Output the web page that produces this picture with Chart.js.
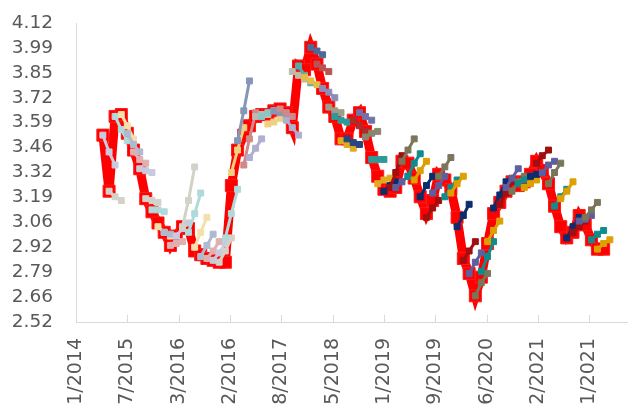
<!DOCTYPE html>
<html>
<head>
<meta charset="utf-8">
<script src="https://cdn.jsdelivr.net/npm/chart.js@4.4.1/dist/chart.umd.min.js"></script>
<style>
  html, body { margin: 0; padding: 0; background: #ffffff; }
  #wrap { width: 637px; height: 405px; overflow: hidden; }
</style>
</head>
<body>
<div id="wrap"><canvas id="chart" width="637" height="405"></canvas></div>
<script>
// Axis labels
const xTickLabels = ['11/2014', '7/2015', '3/2016', '12/2016', '8/2017', '5/2018',
                     '1/2019', '9/2019', '6/2020', '2/2021', '11/2021'];
const yTickLabels = ['2.52', '2.66', '2.79', '2.92', '3.06', '3.19', '3.32',
                     '3.46', '3.59', '3.72', '3.85', '3.99', '4.12'];

// Monthly spot rate, March 2015 .. January 2022
const rateStart = { year: 2015, month: 3 };
const rate = [
  3.52, 3.22, 3.62, 3.63, 3.53, 3.44, 3.34, 3.18, 3.11, 3.05,        // 2015-03 .. 2015-12
  3.00, 2.93, 2.98, 3.03, 3.02, 2.90, 2.88, 2.86, 2.85, 2.84, 2.84, 3.25, // 2016
  3.44, 3.52, 3.57, 3.62, 3.63, 3.63, 3.65, 3.66, 3.64, 3.56, 3.89, 3.87, // 2017
  3.99, 3.90, 3.77, 3.67, 3.62, 3.50, 3.50, 3.60, 3.64, 3.54, 3.40, 3.30, // 2018
  3.23, 3.22, 3.24, 3.38, 3.37, 3.29, 3.19, 3.10, 3.17, 3.31, 3.28, 3.23, // 2019
  3.08, 2.86, 2.78, 2.66, 2.76, 2.94, 3.10, 3.16, 3.22, 3.27, 3.25, 3.27, // 2020
  3.31, 3.38, 3.33, 3.26, 3.14, 3.03, 2.97, 3.00, 3.09, 3.04, 2.96, 2.91, // 2021
  2.91                                                                   // 2022-01
];

// Three-month forward curves, one per month from March 2015
const curveStart = { year: 2015, month: 3 };
const forwardCurves = [
  [3.52, 3.43, 3.36], [3.22, 3.19, 3.17], [3.62, 3.55, 3.49], [3.63, 3.57, 3.50],
  [3.53, 3.47, 3.43], [3.43, 3.39, 3.37], [3.34, 3.33, 3.32], [3.18, 3.17, 3.16],
  [3.12, 3.12, 3.11], [3.03, 3.00, 2.98], [3.00, 2.99, 2.98], [2.93, 2.94, 2.95],
  [2.98, 3.02, 3.05], [3.03, 3.17, 3.35], [3.00, 3.10, 3.21], [2.92, 3.00, 3.08],
  [2.87, 2.93, 2.99], [2.86, 2.90, 2.95], [2.85, 2.89, 2.94], [2.84, 2.90, 2.97],
  [2.97, 3.10, 3.23], [3.32, 3.44, 3.56], [3.49, 3.65, 3.81], [3.36, 3.50, 3.64],
  [3.40, 3.45, 3.50], [3.62, 3.63, 3.63], [3.62, 3.64, 3.65], [3.58, 3.59, 3.61],
  [3.65, 3.64, 3.63], [3.66, 3.64, 3.62], [3.60, 3.56, 3.52], [3.86, 3.84, 3.82],
  [3.89, 3.84, 3.80], [3.83, 3.81, 3.79], [3.99, 3.97, 3.95], [3.90, 3.88, 3.86],
  [3.77, 3.75, 3.72], [3.67, 3.65, 3.64], [3.62, 3.60, 3.59], [3.49, 3.47, 3.45],
  [3.50, 3.48, 3.47], [3.60, 3.57, 3.54], [3.64, 3.62, 3.60], [3.51, 3.53, 3.54],
  [3.39, 3.39, 3.39], [3.26, 3.28, 3.29], [3.22, 3.25, 3.27], [3.24, 3.32, 3.41],
  [3.24, 3.27, 3.30], [3.38, 3.44, 3.50], [3.30, 3.37, 3.42], [3.28, 3.33, 3.38],
  [3.19, 3.25, 3.30], [3.08, 3.13, 3.17], [3.21, 3.25, 3.30], [3.30, 3.35, 3.40],
  [3.19, 3.24, 3.28], [3.21, 3.26, 3.30], [3.03, 3.09, 3.15], [2.85, 2.90, 2.95],
  [2.78, 2.84, 2.89], [2.66, 2.73, 2.78], [2.79, 2.87, 2.95], [2.95, 3.01, 3.06],
  [3.13, 3.20, 3.27], [3.15, 3.21, 3.27], [3.24, 3.29, 3.34], [3.22, 3.27, 3.30],
  [3.26, 3.28, 3.30], [3.24, 3.26, 3.28], [3.30, 3.31, 3.32], [3.37, 3.41, 3.44],
  [3.32, 3.36, 3.38], [3.26, 3.32, 3.37], [3.14, 3.19, 3.23], [3.18, 3.22, 3.27],
  [2.97, 3.03, 3.08], [3.00, 3.03, 3.06], [3.06, 3.07, 3.09], [3.08, 3.12, 3.16],
  [2.96, 2.99, 3.01], [2.91, 2.94, 2.96]
];

// Curve colours, cycling month by month; older curves are drawn paler
const palette = ['#0B2D6E', '#A01010', '#5F5F9F', '#7A765A', '#108C8C', '#DDA000'];

// ---- helpers -------------------------------------------------------------
const axisOrigin = Date.UTC(2014, 10, 1);          // 1 Nov 2014 = day 0
const tickStepDays = 256;
const dayOf = (year, month, offset) =>
  (Date.UTC(year, month - 1 + offset, 15) - axisOrigin) / 86400000;

function tint(hex, strength) {
  const n = parseInt(hex.slice(1), 16);
  const c = [(n >> 16) & 255, (n >> 8) & 255, n & 255]
    .map(v => Math.round(255 - (255 - v) * strength));
  return 'rgb(' + c.join(',') + ')';
}

function curveStrength(monthIndex) {
  if (monthIndex < 25) return 0.33;
  if (monthIndex < 36) return 0.5;
  if (monthIndex < 42) return 0.72;
  if (monthIndex < 50) return 0.88;
  return 1;
}

// ---- datasets ------------------------------------------------------------
const rateData = rate.map((v, i) => ({ x: dayOf(rateStart.year, rateStart.month, i), y: v }));

const datasets = [{
  label: 'Rate',
  data: rateData,
  borderColor: '#FF0000',
  backgroundColor: '#FF0000',
  borderWidth: 9,
  pointStyle: 'rect',
  pointRadius: 8.5,
  pointBorderWidth: 1,
  pointBorderColor: '#FF1A1A',
  pointBackgroundColor: '#FF0000',
  borderJoinStyle: 'miter',
  order: 1000
}];

const firstCurveMonth = (curveStart.year - 2014) * 12 + curveStart.month - 11;
forwardCurves.forEach((curve, i) => {
  const m = firstCurveMonth + i;
  const base = palette[(((m - 50) % 6) + 6) % 6];
  const col = tint(base, curveStrength(m));
  datasets.push({
    label: 'Forward ' + i,
    data: curve.map((v, k) => ({ x: dayOf(curveStart.year, curveStart.month, i + k), y: v })),
    borderColor: col,
    backgroundColor: col,
    borderWidth: 3,
    pointStyle: 'rect',
    pointRadius: 4.2,
    pointBorderWidth: 1,
    pointBorderColor: col,
    pointBackgroundColor: col,
    order: -m
  });
});

// Short tick marks drawn inward from the category axis
const innerTicks = {
  id: 'innerTicks',
  beforeDatasetsDraw(chart) {
    const s = chart.scales.x;
    const ctx = chart.ctx;
    ctx.save();
    ctx.strokeStyle = '#D9D9D9';
    ctx.lineWidth = 1;
    s.ticks.forEach(t => {
      const px = Math.round(s.getPixelForValue(t.value)) + 0.5;
      ctx.beginPath();
      ctx.moveTo(px, s.top);
      ctx.lineTo(px, s.top - 7);
      ctx.stroke();
    });
    ctx.restore();
  }
};

const tickColor = '#595959';

new Chart(document.getElementById('chart'), {
  type: 'line',
  data: { datasets },
  plugins: [innerTicks],
  options: {
    responsive: false,
    devicePixelRatio: 1,
    animation: false,
    layout: { padding: { top: 23, right: 0, bottom: 0, left: 0 } },
    plugins: { legend: { display: false }, tooltip: { enabled: false } },
    scales: {
      x: {
        type: 'linear',
        min: 0,
        max: 2751,
        afterBuildTicks(scale) {
          scale.ticks = xTickLabels.map((_, i) => ({ value: i * tickStepDays }));
        },
        afterFit(scale) { scale.height = 83; },
        ticks: {
          autoSkip: false,
          minRotation: 90,
          maxRotation: 90,
          padding: 16,
          font: { family: 'DejaVu Sans', size: 19 },
          color: tickColor,
          callback: (v, i) => xTickLabels[i]
        },
        grid: { display: false, drawTicks: false },
        border: { display: true, color: '#D9D9D9', width: 1 }
      },
      y: {
        type: 'linear',
        min: 2.52,
        max: 4.12,
        afterBuildTicks(scale) {
          scale.ticks = yTickLabels.map((_, i) => ({ value: 2.52 + i * (1.6 / 12) }));
        },
        afterFit(scale) { scale.width = 76; },
        ticks: {
          autoSkip: false,
          padding: 0,
          font: { family: 'DejaVu Sans', size: 18.5 },
          color: tickColor,
          callback: (v, i) => yTickLabels[i]
        },
        // invisible tick marks provide the gap between labels and axis line
        grid: { display: true, drawOnChartArea: false, drawTicks: true,
                tickLength: 23, color: 'rgba(0,0,0,0)' },
        border: { display: true, color: '#D9D9D9', width: 1 }
      }
    }
  }
});
</script>
</body>
</html>
